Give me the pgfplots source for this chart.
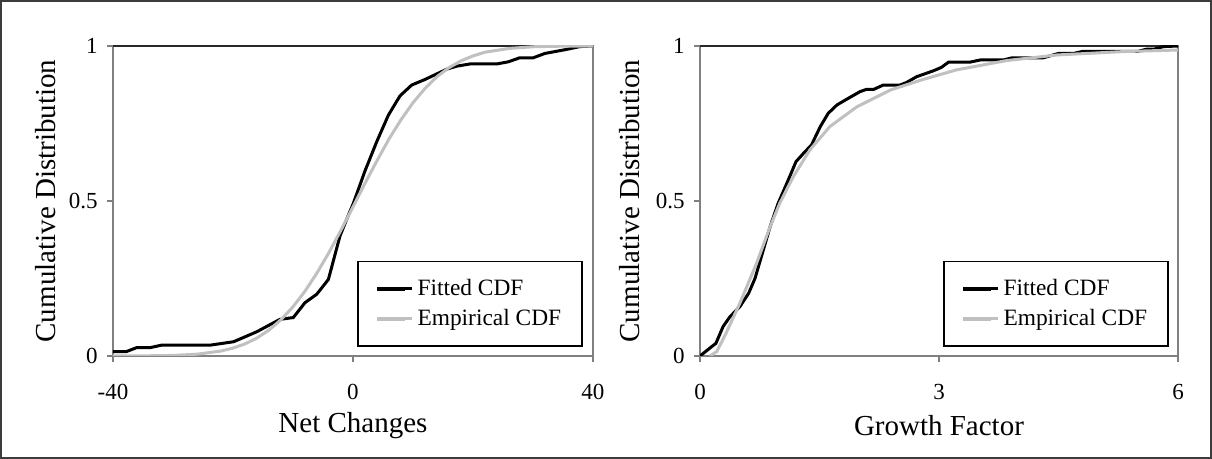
\documentclass[border=0pt]{standalone}
\usepackage{fontspec}
\setmainfont{Liberation Serif}
\usepackage{pgfplots}
\pgfplotsset{compat=1.18}

\definecolor{empgray}{RGB}{192,192,192}
\definecolor{axgray}{RGB}{128,128,128}
\definecolor{topedge}{RGB}{40,40,40}
\definecolor{framegray}{RGB}{60,60,60}

\pgfplotsset{
  cdfpanel/.style={
    scale only axis,
    height=155pt,
    ymin=0, ymax=1,
    ytick={0,0.5,1}, yticklabels={0,0.5,1},
    axis line style={axgray, line width=0.7pt},
    tick style={axgray, line width=0.7pt},
    tick align=outside, major tick length=3pt,
    xtick pos=lower, ytick pos=left,
    /pgf/number format/assume math mode=true,
    ticklabel style={font=\fontsize{11.5}{13}\selectfont},
    yticklabel style={xshift=-1.2pt},
    xticklabel style={yshift=-7.5pt},
    label style={font=\fontsize{14.5}{17}\selectfont},
    xlabel style={at={(axis description cs:0.5,-0.226)}, anchor=center},
    legend cell align=left,
    legend style={draw=black, line width=0.75pt,
      font=\fontsize{11.7}{13}\selectfont,
      inner xsep=8.5pt, inner ysep=7pt, row sep=1.2pt},
    legend image code/.code={%
      \path (0pt,0pt) -- (17.5pt,0pt);
      \draw[#1, line width=2pt] (0pt,0pt) -- (14pt,0pt);},
  },
}

\begin{document}
\begin{tikzpicture}[x=1pt,y=1pt]
\useasboundingbox (0,0) rectangle (606,229.5);
\draw[framegray, line width=1pt] (0.6,0.6) rectangle (605.4,228.9);

% ---------- net changes ----------
\begin{axis}[cdfpanel,
  at={(56.5pt,51.5pt)}, anchor=south west,
  width=240pt,
  xmin=-40, xmax=40,
  xtick={-40,0,40}, xticklabels={-40,0,40},
  xlabel={Net Changes}, ylabel={Cumulative Distribution},
  ylabel style={at={(axis description cs:-0.1396,0.5)}, anchor=center},
  legend style={at={(axis description cs:0.979,0.029)}, anchor=south east},
]
% darker upper edge of the plot area
\draw[topedge, line width=0.7pt] (rel axis cs:0,1) -- (rel axis cs:1,1);
\addplot[black, line width=1.5pt] coordinates {
  (-40,0.014) (-37.8,0.014) (-36.05,0.027) (-33.8,0.027) (-31.9,0.035)
  (-23.8,0.035) (-19.9,0.046) (-16.05,0.078) (-12.2,0.118) (-9.95,0.124)
  (-8.0,0.172) (-6.05,0.199) (-4.1,0.247) (-2.17,0.387) (-1.05,0.441)
  (0.05,0.492) (2.0,0.597) (3.95,0.691) (5.9,0.777) (7.83,0.839)
  (9.78,0.874) (12.0,0.892) (15.6,0.925) (17.3,0.935) (19.5,0.942)
  (23.95,0.942) (25.9,0.949) (27.8,0.962) (30.05,0.962) (32.0,0.976)
  (35.6,0.989) (37.8,0.998) (40,1.0)
};
\addlegendentry{Fitted CDF}
\addplot[empgray, line width=1.5pt] coordinates {
  (-40,0.0001) (-35,0.0004) (-30,0.0018) (-26,0.0058) (-22,0.016)
  (-20,0.0255) (-18,0.039) (-16,0.058) (-14,0.0837) (-12,0.117)
  (-10,0.1587) (-8,0.209) (-6,0.268) (-4,0.334) (-2,0.406)
  (0,0.481) (2,0.557) (4,0.630) (6,0.700) (8,0.762)
  (10,0.817) (12,0.863) (14,0.901) (16,0.930) (18,0.952)
  (20,0.968) (22,0.980) (26,0.992) (30,0.9975) (35,0.9995) (40,0.9999)
};
\addlegendentry{Empirical CDF}
\end{axis}

% ---------- growth factor ----------
\begin{axis}[cdfpanel,
  at={(350pt,51.5pt)}, anchor=south west,
  width=239pt,
  xmin=0, xmax=6,
  xtick={0,3,6}, xticklabels={0,3,6},
  xlabel={Growth Factor}, ylabel={Cumulative Distribution},
  ylabel style={at={(axis description cs:-0.1464,0.5)}, anchor=center},
  legend style={at={(axis description cs:0.981,0.029)}, anchor=south east},
]
\draw[topedge, line width=0.7pt] (rel axis cs:0,1) -- (rel axis cs:1,1);
\addplot[black, line width=1.5pt] coordinates {
  (0,0) (0.2,0.041) (0.29,0.095) (0.377,0.127) (0.50,0.159)
  (0.61,0.202) (0.69,0.25) (0.795,0.342) (0.88,0.417) (0.98,0.492)
  (1.09,0.557) (1.205,0.627) (1.30,0.654) (1.40,0.681) (1.51,0.740)
  (1.61,0.783) (1.72,0.81) (1.84,0.828) (2.01,0.853) (2.09,0.86)
  (2.18,0.86) (2.30,0.874) (2.51,0.874) (2.59,0.882) (2.72,0.901)
  (2.93,0.920) (3.03,0.931) (3.12,0.948) (3.39,0.948) (3.52,0.955)
  (3.81,0.955) (3.92,0.962) (4.31,0.962) (4.50,0.976) (4.69,0.976)
  (4.81,0.983) (5.50,0.983) (5.61,0.99) (5.70,0.99) (5.82,0.998) (6.0,1.0)
};
\addlegendentry{Fitted CDF}
\addplot[empgray, line width=1.5pt] coordinates {
  (0.125,0) (0.21,0.014) (0.335,0.078) (0.50,0.17) (0.71,0.299)
  (0.88,0.417) (1.0,0.492) (1.17,0.578) (1.38,0.665) (1.63,0.740)
  (1.97,0.804) (2.39,0.858) (2.80,0.892) (3.22,0.923) (3.85,0.953)
  (4.48,0.971) (5.32,0.982) (6.0,0.987)
};
\addlegendentry{Empirical CDF}
\end{axis}
\end{tikzpicture}
\end{document}
